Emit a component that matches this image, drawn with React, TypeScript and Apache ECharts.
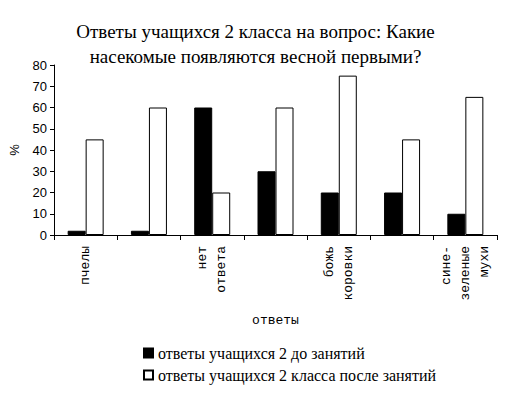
import React, { useEffect, useRef } from "react";
import * as echarts from "echarts";

const categories = ["пчелы", "", "нет\nответа", "", "божь\nкоровки", "", "сине-\nзеленые\nмухи"];
const beforeValues = [2, 2, 60, 30, 20, 20, 10];
const afterValues = [45, 60, 20, 60, 75, 45, 65];
const seriesNames = ["ответы учащихся 2 до занятий", "ответы учащихся 2 класса после занятий"];
const titleText = "Ответы учащихся 2 класса на вопрос: Какие\nнасекомые появляются весной первыми?";

export default function App() {
  const ref = useRef<HTMLDivElement>(null);
  useEffect(() => {
    if (!ref.current) return;
    const chart = echarts.init(ref.current, null, { renderer: "svg" });
    chart.setOption({
      animation: false,
      backgroundColor: "#ffffff",
      title: {
        text: titleText,
        left: "center",
        top: 14,
        textStyle: {
          fontFamily: "Liberation Serif",
          fontSize: 19,
          fontWeight: "normal",
          color: "#000",
          lineHeight: 25,
        },
      },
      legend: {
        orient: "vertical",
        left: 138,
        top: 340,
        itemWidth: 9,
        itemHeight: 9,
        itemGap: 6,
        icon: "rect",
        textStyle: { fontFamily: "Liberation Serif", fontSize: 16, color: "#000" },
        data: seriesNames,
      },
      grid: { left: 53, right: 14, top: 65, bottom: 162, containLabel: false },
      xAxis: {
        type: "category",
        data: categories,
        name: "ответы",
        nameLocation: "middle",
        nameGap: 79,
        nameTextStyle: { fontFamily: "Liberation Mono", fontSize: 13, color: "#000" },
        axisLine: { lineStyle: { color: "#000", width: 1 } },
        axisTick: { show: true, length: 5, lineStyle: { color: "#000" } },
        axisLabel: {
          interval: 0,
          rotate: 90,
          fontFamily: "Liberation Mono",
          fontSize: 13,
          lineHeight: 19,
          color: "#000",
          margin: 11,
        },
      },
      yAxis: {
        type: "value",
        min: 0,
        max: 80,
        interval: 10,
        name: "%",
        nameLocation: "middle",
        nameRotate: 90,
        nameGap: 33,
        nameTextStyle: { fontFamily: "Liberation Sans", fontSize: 13, color: "#000" },
        splitLine: { show: false },
        axisLine: { show: true, lineStyle: { color: "#000", width: 1 } },
        axisTick: { show: true, length: 4, lineStyle: { color: "#000" } },
        axisLabel: { fontFamily: "Liberation Sans", fontSize: 13, color: "#000", margin: 7 },
      },
      series: [
        {
          name: seriesNames[0],
          type: "bar",
          data: beforeValues,
          barWidth: 18,
          barGap: "0%",
          itemStyle: { color: "#000", borderColor: "#000", borderWidth: 1 },
        },
        {
          name: seriesNames[1],
          type: "bar",
          data: afterValues,
          barWidth: 18,
          barGap: "0%",
          itemStyle: { color: "#fff", borderColor: "#000", borderWidth: 1 },
        },
      ],
    });
    return () => chart.dispose();
  }, []);
  return <div ref={ref} style={{ width: 511, height: 397, position: "absolute", left: 0, top: 0 }} />;
}
